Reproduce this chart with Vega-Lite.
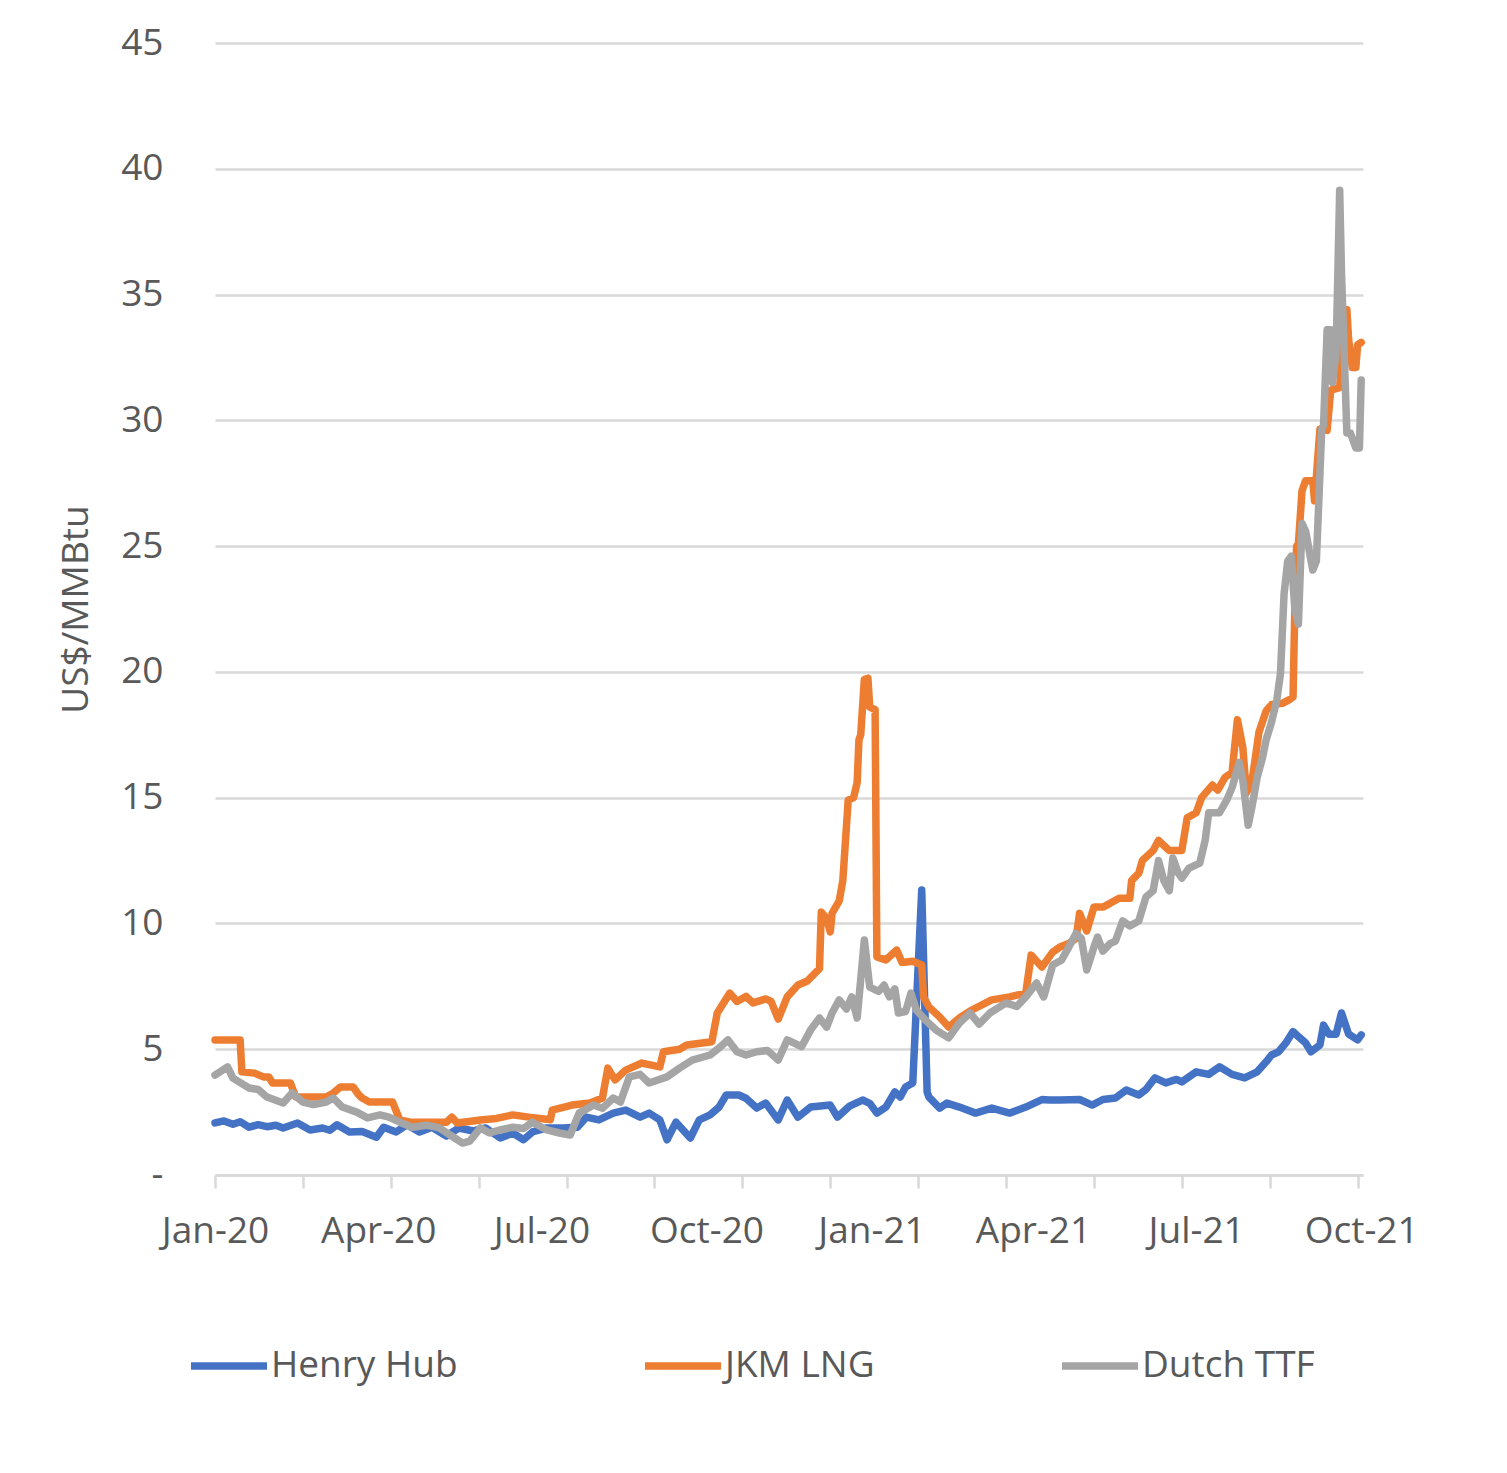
{
  "$schema": "https://vega.github.io/schema/vega-lite/v6.json",
  "autosize": {"type": "none"},
  "padding": {"left": 215, "top": 43, "right": 144, "bottom": 298},
  "width": 1148,
  "height": 1132,
  "background": "white",
  "config": {
    "view": {"stroke": null},
    "font": "Open Sans"
  },
  "data": {
    "values": [
      {"d": "2020-01-01", "s": "Henry Hub", "v": 2.07},
      {"d": "2020-01-06", "s": "Henry Hub", "v": 2.15},
      {"d": "2020-01-11", "s": "Henry Hub", "v": 2.02},
      {"d": "2020-01-15", "s": "Henry Hub", "v": 2.12},
      {"d": "2020-01-20", "s": "Henry Hub", "v": 1.90},
      {"d": "2020-01-25", "s": "Henry Hub", "v": 2.00},
      {"d": "2020-01-30", "s": "Henry Hub", "v": 1.92},
      {"d": "2020-02-04", "s": "Henry Hub", "v": 1.98},
      {"d": "2020-02-08", "s": "Henry Hub", "v": 1.87},
      {"d": "2020-02-16", "s": "Henry Hub", "v": 2.07},
      {"d": "2020-02-23", "s": "Henry Hub", "v": 1.79},
      {"d": "2020-03-01", "s": "Henry Hub", "v": 1.87},
      {"d": "2020-03-05", "s": "Henry Hub", "v": 1.78},
      {"d": "2020-03-09", "s": "Henry Hub", "v": 2.00},
      {"d": "2020-03-16", "s": "Henry Hub", "v": 1.71},
      {"d": "2020-03-23", "s": "Henry Hub", "v": 1.73},
      {"d": "2020-03-31", "s": "Henry Hub", "v": 1.50},
      {"d": "2020-04-04", "s": "Henry Hub", "v": 1.90},
      {"d": "2020-04-11", "s": "Henry Hub", "v": 1.71},
      {"d": "2020-04-17", "s": "Henry Hub", "v": 2.00},
      {"d": "2020-04-24", "s": "Henry Hub", "v": 1.71},
      {"d": "2020-05-01", "s": "Henry Hub", "v": 1.90},
      {"d": "2020-05-09", "s": "Henry Hub", "v": 1.55},
      {"d": "2020-05-16", "s": "Henry Hub", "v": 1.87},
      {"d": "2020-05-24", "s": "Henry Hub", "v": 1.75},
      {"d": "2020-05-31", "s": "Henry Hub", "v": 1.87},
      {"d": "2020-06-08", "s": "Henry Hub", "v": 1.47},
      {"d": "2020-06-15", "s": "Henry Hub", "v": 1.67},
      {"d": "2020-06-21", "s": "Henry Hub", "v": 1.40},
      {"d": "2020-06-26", "s": "Henry Hub", "v": 1.71},
      {"d": "2020-07-04", "s": "Henry Hub", "v": 1.87},
      {"d": "2020-07-13", "s": "Henry Hub", "v": 1.87},
      {"d": "2020-07-21", "s": "Henry Hub", "v": 1.90},
      {"d": "2020-07-26", "s": "Henry Hub", "v": 2.30},
      {"d": "2020-08-02", "s": "Henry Hub", "v": 2.19},
      {"d": "2020-08-10", "s": "Henry Hub", "v": 2.46},
      {"d": "2020-08-17", "s": "Henry Hub", "v": 2.58},
      {"d": "2020-08-25", "s": "Henry Hub", "v": 2.30},
      {"d": "2020-08-30", "s": "Henry Hub", "v": 2.46},
      {"d": "2020-09-05", "s": "Henry Hub", "v": 2.19},
      {"d": "2020-09-09", "s": "Henry Hub", "v": 1.40},
      {"d": "2020-09-14", "s": "Henry Hub", "v": 2.10},
      {"d": "2020-09-22", "s": "Henry Hub", "v": 1.47},
      {"d": "2020-09-27", "s": "Henry Hub", "v": 2.19},
      {"d": "2020-10-03", "s": "Henry Hub", "v": 2.39},
      {"d": "2020-10-08", "s": "Henry Hub", "v": 2.70},
      {"d": "2020-10-12", "s": "Henry Hub", "v": 3.18},
      {"d": "2020-10-19", "s": "Henry Hub", "v": 3.18},
      {"d": "2020-10-23", "s": "Henry Hub", "v": 3.05},
      {"d": "2020-10-29", "s": "Henry Hub", "v": 2.66},
      {"d": "2020-11-03", "s": "Henry Hub", "v": 2.86},
      {"d": "2020-11-10", "s": "Henry Hub", "v": 2.19},
      {"d": "2020-11-15", "s": "Henry Hub", "v": 2.98},
      {"d": "2020-11-21", "s": "Henry Hub", "v": 2.30},
      {"d": "2020-11-28", "s": "Henry Hub", "v": 2.70},
      {"d": "2020-12-09", "s": "Henry Hub", "v": 2.78},
      {"d": "2020-12-13", "s": "Henry Hub", "v": 2.30},
      {"d": "2020-12-20", "s": "Henry Hub", "v": 2.75},
      {"d": "2020-12-27", "s": "Henry Hub", "v": 2.98},
      {"d": "2020-12-31", "s": "Henry Hub", "v": 2.85},
      {"d": "2021-01-04", "s": "Henry Hub", "v": 2.46},
      {"d": "2021-01-09", "s": "Henry Hub", "v": 2.70},
      {"d": "2021-01-14", "s": "Henry Hub", "v": 3.30},
      {"d": "2021-01-17", "s": "Henry Hub", "v": 3.10},
      {"d": "2021-01-20", "s": "Henry Hub", "v": 3.50},
      {"d": "2021-01-24", "s": "Henry Hub", "v": 3.66},
      {"d": "2021-01-29", "s": "Henry Hub", "v": 11.33},
      {"d": "2021-02-01", "s": "Henry Hub", "v": 3.30},
      {"d": "2021-02-02", "s": "Henry Hub", "v": 3.10},
      {"d": "2021-02-08", "s": "Henry Hub", "v": 2.66},
      {"d": "2021-02-12", "s": "Henry Hub", "v": 2.86},
      {"d": "2021-02-19", "s": "Henry Hub", "v": 2.70},
      {"d": "2021-02-28", "s": "Henry Hub", "v": 2.46},
      {"d": "2021-03-09", "s": "Henry Hub", "v": 2.66},
      {"d": "2021-03-19", "s": "Henry Hub", "v": 2.46},
      {"d": "2021-03-28", "s": "Henry Hub", "v": 2.70},
      {"d": "2021-04-06", "s": "Henry Hub", "v": 3.00},
      {"d": "2021-04-10", "s": "Henry Hub", "v": 2.98},
      {"d": "2021-04-16", "s": "Henry Hub", "v": 2.98},
      {"d": "2021-04-27", "s": "Henry Hub", "v": 3.00},
      {"d": "2021-05-04", "s": "Henry Hub", "v": 2.78},
      {"d": "2021-05-10", "s": "Henry Hub", "v": 3.00},
      {"d": "2021-05-17", "s": "Henry Hub", "v": 3.06},
      {"d": "2021-05-23", "s": "Henry Hub", "v": 3.38},
      {"d": "2021-05-30", "s": "Henry Hub", "v": 3.18},
      {"d": "2021-06-03", "s": "Henry Hub", "v": 3.40},
      {"d": "2021-06-08", "s": "Henry Hub", "v": 3.86},
      {"d": "2021-06-14", "s": "Henry Hub", "v": 3.66},
      {"d": "2021-06-20", "s": "Henry Hub", "v": 3.80},
      {"d": "2021-06-23", "s": "Henry Hub", "v": 3.70},
      {"d": "2021-07-01", "s": "Henry Hub", "v": 4.10},
      {"d": "2021-07-08", "s": "Henry Hub", "v": 4.00},
      {"d": "2021-07-14", "s": "Henry Hub", "v": 4.30},
      {"d": "2021-07-21", "s": "Henry Hub", "v": 4.00},
      {"d": "2021-07-28", "s": "Henry Hub", "v": 3.86},
      {"d": "2021-08-04", "s": "Henry Hub", "v": 4.10},
      {"d": "2021-08-09", "s": "Henry Hub", "v": 4.50},
      {"d": "2021-08-12", "s": "Henry Hub", "v": 4.77},
      {"d": "2021-08-16", "s": "Henry Hub", "v": 4.90},
      {"d": "2021-08-20", "s": "Henry Hub", "v": 5.25},
      {"d": "2021-08-24", "s": "Henry Hub", "v": 5.70},
      {"d": "2021-08-27", "s": "Henry Hub", "v": 5.50},
      {"d": "2021-08-31", "s": "Henry Hub", "v": 5.25},
      {"d": "2021-09-03", "s": "Henry Hub", "v": 4.90},
      {"d": "2021-09-08", "s": "Henry Hub", "v": 5.17},
      {"d": "2021-09-10", "s": "Henry Hub", "v": 5.96},
      {"d": "2021-09-13", "s": "Henry Hub", "v": 5.60},
      {"d": "2021-09-17", "s": "Henry Hub", "v": 5.60},
      {"d": "2021-09-20", "s": "Henry Hub", "v": 6.44},
      {"d": "2021-09-24", "s": "Henry Hub", "v": 5.60},
      {"d": "2021-09-29", "s": "Henry Hub", "v": 5.37},
      {"d": "2021-10-01", "s": "Henry Hub", "v": 5.57},

      {"d": "2020-01-01", "s": "JKM LNG", "v": 5.37},
      {"d": "2020-01-15", "s": "JKM LNG", "v": 5.37},
      {"d": "2020-01-16", "s": "JKM LNG", "v": 4.10},
      {"d": "2020-01-23", "s": "JKM LNG", "v": 4.05},
      {"d": "2020-01-28", "s": "JKM LNG", "v": 3.90},
      {"d": "2020-01-31", "s": "JKM LNG", "v": 3.90},
      {"d": "2020-02-02", "s": "JKM LNG", "v": 3.66},
      {"d": "2020-02-12", "s": "JKM LNG", "v": 3.66},
      {"d": "2020-02-15", "s": "JKM LNG", "v": 3.10},
      {"d": "2020-03-03", "s": "JKM LNG", "v": 3.10},
      {"d": "2020-03-07", "s": "JKM LNG", "v": 3.26},
      {"d": "2020-03-11", "s": "JKM LNG", "v": 3.50},
      {"d": "2020-03-18", "s": "JKM LNG", "v": 3.50},
      {"d": "2020-03-21", "s": "JKM LNG", "v": 3.20},
      {"d": "2020-03-23", "s": "JKM LNG", "v": 3.06},
      {"d": "2020-03-27", "s": "JKM LNG", "v": 2.90},
      {"d": "2020-04-09", "s": "JKM LNG", "v": 2.90},
      {"d": "2020-04-13", "s": "JKM LNG", "v": 2.19},
      {"d": "2020-04-19", "s": "JKM LNG", "v": 2.10},
      {"d": "2020-05-09", "s": "JKM LNG", "v": 2.10},
      {"d": "2020-05-12", "s": "JKM LNG", "v": 2.30},
      {"d": "2020-05-15", "s": "JKM LNG", "v": 2.07},
      {"d": "2020-05-28", "s": "JKM LNG", "v": 2.19},
      {"d": "2020-06-06", "s": "JKM LNG", "v": 2.25},
      {"d": "2020-06-15", "s": "JKM LNG", "v": 2.39},
      {"d": "2020-06-24", "s": "JKM LNG", "v": 2.30},
      {"d": "2020-07-06", "s": "JKM LNG", "v": 2.20},
      {"d": "2020-07-07", "s": "JKM LNG", "v": 2.58},
      {"d": "2020-07-18", "s": "JKM LNG", "v": 2.78},
      {"d": "2020-07-28", "s": "JKM LNG", "v": 2.86},
      {"d": "2020-08-04", "s": "JKM LNG", "v": 3.06},
      {"d": "2020-08-07", "s": "JKM LNG", "v": 4.25},
      {"d": "2020-08-11", "s": "JKM LNG", "v": 3.78},
      {"d": "2020-08-17", "s": "JKM LNG", "v": 4.17},
      {"d": "2020-08-26", "s": "JKM LNG", "v": 4.45},
      {"d": "2020-09-05", "s": "JKM LNG", "v": 4.30},
      {"d": "2020-09-07", "s": "JKM LNG", "v": 4.90},
      {"d": "2020-09-16", "s": "JKM LNG", "v": 5.00},
      {"d": "2020-09-20", "s": "JKM LNG", "v": 5.17},
      {"d": "2020-10-04", "s": "JKM LNG", "v": 5.30},
      {"d": "2020-10-07", "s": "JKM LNG", "v": 6.44},
      {"d": "2020-10-14", "s": "JKM LNG", "v": 7.23},
      {"d": "2020-10-18", "s": "JKM LNG", "v": 6.90},
      {"d": "2020-10-23", "s": "JKM LNG", "v": 7.10},
      {"d": "2020-10-27", "s": "JKM LNG", "v": 6.84},
      {"d": "2020-11-03", "s": "JKM LNG", "v": 7.00},
      {"d": "2020-11-06", "s": "JKM LNG", "v": 6.90},
      {"d": "2020-11-10", "s": "JKM LNG", "v": 6.20},
      {"d": "2020-11-15", "s": "JKM LNG", "v": 7.08},
      {"d": "2020-11-21", "s": "JKM LNG", "v": 7.55},
      {"d": "2020-11-26", "s": "JKM LNG", "v": 7.70},
      {"d": "2020-12-03", "s": "JKM LNG", "v": 8.20},
      {"d": "2020-12-04", "s": "JKM LNG", "v": 10.45},
      {"d": "2020-12-07", "s": "JKM LNG", "v": 10.20},
      {"d": "2020-12-09", "s": "JKM LNG", "v": 9.66},
      {"d": "2020-12-10", "s": "JKM LNG", "v": 10.40},
      {"d": "2020-12-14", "s": "JKM LNG", "v": 10.90},
      {"d": "2020-12-16", "s": "JKM LNG", "v": 11.70},
      {"d": "2020-12-19", "s": "JKM LNG", "v": 14.90},
      {"d": "2020-12-22", "s": "JKM LNG", "v": 15.00},
      {"d": "2020-12-24", "s": "JKM LNG", "v": 15.60},
      {"d": "2020-12-25", "s": "JKM LNG", "v": 17.30},
      {"d": "2020-12-26", "s": "JKM LNG", "v": 17.50},
      {"d": "2020-12-28", "s": "JKM LNG", "v": 19.70},
      {"d": "2020-12-30", "s": "JKM LNG", "v": 19.75},
      {"d": "2020-12-31", "s": "JKM LNG", "v": 18.60},
      {"d": "2021-01-03", "s": "JKM LNG", "v": 18.50},
      {"d": "2021-01-04", "s": "JKM LNG", "v": 8.67},
      {"d": "2021-01-09", "s": "JKM LNG", "v": 8.55},
      {"d": "2021-01-15", "s": "JKM LNG", "v": 8.94},
      {"d": "2021-01-18", "s": "JKM LNG", "v": 8.45},
      {"d": "2021-01-24", "s": "JKM LNG", "v": 8.50},
      {"d": "2021-01-29", "s": "JKM LNG", "v": 8.35},
      {"d": "2021-01-30", "s": "JKM LNG", "v": 7.08},
      {"d": "2021-02-02", "s": "JKM LNG", "v": 6.68},
      {"d": "2021-02-08", "s": "JKM LNG", "v": 6.28},
      {"d": "2021-02-13", "s": "JKM LNG", "v": 5.88},
      {"d": "2021-02-19", "s": "JKM LNG", "v": 6.24},
      {"d": "2021-02-26", "s": "JKM LNG", "v": 6.56},
      {"d": "2021-03-09", "s": "JKM LNG", "v": 6.96},
      {"d": "2021-03-19", "s": "JKM LNG", "v": 7.08},
      {"d": "2021-03-28", "s": "JKM LNG", "v": 7.23},
      {"d": "2021-03-31", "s": "JKM LNG", "v": 8.74},
      {"d": "2021-04-06", "s": "JKM LNG", "v": 8.27},
      {"d": "2021-04-12", "s": "JKM LNG", "v": 8.86},
      {"d": "2021-04-16", "s": "JKM LNG", "v": 9.06},
      {"d": "2021-04-21", "s": "JKM LNG", "v": 9.20},
      {"d": "2021-04-25", "s": "JKM LNG", "v": 9.40},
      {"d": "2021-04-27", "s": "JKM LNG", "v": 10.40},
      {"d": "2021-05-01", "s": "JKM LNG", "v": 9.70},
      {"d": "2021-05-05", "s": "JKM LNG", "v": 10.65},
      {"d": "2021-05-10", "s": "JKM LNG", "v": 10.65},
      {"d": "2021-05-14", "s": "JKM LNG", "v": 10.80},
      {"d": "2021-05-19", "s": "JKM LNG", "v": 11.00},
      {"d": "2021-05-25", "s": "JKM LNG", "v": 11.00},
      {"d": "2021-05-26", "s": "JKM LNG", "v": 11.70},
      {"d": "2021-05-30", "s": "JKM LNG", "v": 12.00},
      {"d": "2021-06-01", "s": "JKM LNG", "v": 12.50},
      {"d": "2021-06-07", "s": "JKM LNG", "v": 12.90},
      {"d": "2021-06-10", "s": "JKM LNG", "v": 13.30},
      {"d": "2021-06-16", "s": "JKM LNG", "v": 12.90},
      {"d": "2021-06-23", "s": "JKM LNG", "v": 12.90},
      {"d": "2021-06-26", "s": "JKM LNG", "v": 14.20},
      {"d": "2021-07-01", "s": "JKM LNG", "v": 14.40},
      {"d": "2021-07-04", "s": "JKM LNG", "v": 15.00},
      {"d": "2021-07-10", "s": "JKM LNG", "v": 15.50},
      {"d": "2021-07-13", "s": "JKM LNG", "v": 15.30},
      {"d": "2021-07-17", "s": "JKM LNG", "v": 15.80},
      {"d": "2021-07-21", "s": "JKM LNG", "v": 16.00},
      {"d": "2021-07-24", "s": "JKM LNG", "v": 18.10},
      {"d": "2021-07-27", "s": "JKM LNG", "v": 17.00},
      {"d": "2021-07-29", "s": "JKM LNG", "v": 15.20},
      {"d": "2021-08-01", "s": "JKM LNG", "v": 15.60},
      {"d": "2021-08-05", "s": "JKM LNG", "v": 17.60},
      {"d": "2021-08-09", "s": "JKM LNG", "v": 18.45},
      {"d": "2021-08-12", "s": "JKM LNG", "v": 18.70},
      {"d": "2021-08-18", "s": "JKM LNG", "v": 18.75},
      {"d": "2021-08-22", "s": "JKM LNG", "v": 18.90},
      {"d": "2021-08-24", "s": "JKM LNG", "v": 19.00},
      {"d": "2021-08-25", "s": "JKM LNG", "v": 22.50},
      {"d": "2021-08-26", "s": "JKM LNG", "v": 25.00},
      {"d": "2021-08-27", "s": "JKM LNG", "v": 25.10},
      {"d": "2021-08-29", "s": "JKM LNG", "v": 27.20},
      {"d": "2021-08-31", "s": "JKM LNG", "v": 27.60},
      {"d": "2021-09-04", "s": "JKM LNG", "v": 27.60},
      {"d": "2021-09-05", "s": "JKM LNG", "v": 26.80},
      {"d": "2021-09-08", "s": "JKM LNG", "v": 29.65},
      {"d": "2021-09-12", "s": "JKM LNG", "v": 29.60},
      {"d": "2021-09-14", "s": "JKM LNG", "v": 31.20},
      {"d": "2021-09-19", "s": "JKM LNG", "v": 31.30},
      {"d": "2021-09-20", "s": "JKM LNG", "v": 32.60},
      {"d": "2021-09-23", "s": "JKM LNG", "v": 34.40},
      {"d": "2021-09-24", "s": "JKM LNG", "v": 33.20},
      {"d": "2021-09-26", "s": "JKM LNG", "v": 32.10},
      {"d": "2021-09-28", "s": "JKM LNG", "v": 32.10},
      {"d": "2021-09-29", "s": "JKM LNG", "v": 33.00},
      {"d": "2021-10-01", "s": "JKM LNG", "v": 33.10},

      {"d": "2020-01-01", "s": "Dutch TTF", "v": 3.97},
      {"d": "2020-01-08", "s": "Dutch TTF", "v": 4.30},
      {"d": "2020-01-11", "s": "Dutch TTF", "v": 3.85},
      {"d": "2020-01-20", "s": "Dutch TTF", "v": 3.46},
      {"d": "2020-01-25", "s": "Dutch TTF", "v": 3.40},
      {"d": "2020-01-30", "s": "Dutch TTF", "v": 3.10},
      {"d": "2020-02-08", "s": "Dutch TTF", "v": 2.86},
      {"d": "2020-02-13", "s": "Dutch TTF", "v": 3.26},
      {"d": "2020-02-19", "s": "Dutch TTF", "v": 2.90},
      {"d": "2020-02-25", "s": "Dutch TTF", "v": 2.80},
      {"d": "2020-03-03", "s": "Dutch TTF", "v": 2.90},
      {"d": "2020-03-07", "s": "Dutch TTF", "v": 3.06},
      {"d": "2020-03-12", "s": "Dutch TTF", "v": 2.70},
      {"d": "2020-03-20", "s": "Dutch TTF", "v": 2.50},
      {"d": "2020-03-26", "s": "Dutch TTF", "v": 2.27},
      {"d": "2020-04-02", "s": "Dutch TTF", "v": 2.39},
      {"d": "2020-04-07", "s": "Dutch TTF", "v": 2.30},
      {"d": "2020-04-13", "s": "Dutch TTF", "v": 2.10},
      {"d": "2020-04-20", "s": "Dutch TTF", "v": 1.90},
      {"d": "2020-04-28", "s": "Dutch TTF", "v": 1.98},
      {"d": "2020-05-05", "s": "Dutch TTF", "v": 1.87},
      {"d": "2020-05-13", "s": "Dutch TTF", "v": 1.50},
      {"d": "2020-05-18", "s": "Dutch TTF", "v": 1.27},
      {"d": "2020-05-22", "s": "Dutch TTF", "v": 1.35},
      {"d": "2020-05-28", "s": "Dutch TTF", "v": 1.87},
      {"d": "2020-06-02", "s": "Dutch TTF", "v": 1.67},
      {"d": "2020-06-08", "s": "Dutch TTF", "v": 1.79},
      {"d": "2020-06-15", "s": "Dutch TTF", "v": 1.90},
      {"d": "2020-06-21", "s": "Dutch TTF", "v": 1.85},
      {"d": "2020-06-26", "s": "Dutch TTF", "v": 2.10},
      {"d": "2020-07-04", "s": "Dutch TTF", "v": 1.79},
      {"d": "2020-07-11", "s": "Dutch TTF", "v": 1.67},
      {"d": "2020-07-17", "s": "Dutch TTF", "v": 1.59},
      {"d": "2020-07-22", "s": "Dutch TTF", "v": 2.46},
      {"d": "2020-07-30", "s": "Dutch TTF", "v": 2.78},
      {"d": "2020-08-04", "s": "Dutch TTF", "v": 2.65},
      {"d": "2020-08-10", "s": "Dutch TTF", "v": 3.06},
      {"d": "2020-08-14", "s": "Dutch TTF", "v": 2.90},
      {"d": "2020-08-19", "s": "Dutch TTF", "v": 3.90},
      {"d": "2020-08-25", "s": "Dutch TTF", "v": 4.00},
      {"d": "2020-08-30", "s": "Dutch TTF", "v": 3.66},
      {"d": "2020-09-09", "s": "Dutch TTF", "v": 3.90},
      {"d": "2020-09-16", "s": "Dutch TTF", "v": 4.25},
      {"d": "2020-09-23", "s": "Dutch TTF", "v": 4.57},
      {"d": "2020-10-03", "s": "Dutch TTF", "v": 4.77},
      {"d": "2020-10-08", "s": "Dutch TTF", "v": 5.05},
      {"d": "2020-10-13", "s": "Dutch TTF", "v": 5.37},
      {"d": "2020-10-18", "s": "Dutch TTF", "v": 4.90},
      {"d": "2020-10-23", "s": "Dutch TTF", "v": 4.77},
      {"d": "2020-10-29", "s": "Dutch TTF", "v": 4.90},
      {"d": "2020-11-04", "s": "Dutch TTF", "v": 4.95},
      {"d": "2020-11-10", "s": "Dutch TTF", "v": 4.57},
      {"d": "2020-11-15", "s": "Dutch TTF", "v": 5.37},
      {"d": "2020-11-23", "s": "Dutch TTF", "v": 5.10},
      {"d": "2020-11-28", "s": "Dutch TTF", "v": 5.76},
      {"d": "2020-12-03", "s": "Dutch TTF", "v": 6.24},
      {"d": "2020-12-07", "s": "Dutch TTF", "v": 5.88},
      {"d": "2020-12-10", "s": "Dutch TTF", "v": 6.44},
      {"d": "2020-12-14", "s": "Dutch TTF", "v": 6.96},
      {"d": "2020-12-18", "s": "Dutch TTF", "v": 6.60},
      {"d": "2020-12-21", "s": "Dutch TTF", "v": 7.08},
      {"d": "2020-12-24", "s": "Dutch TTF", "v": 6.24},
      {"d": "2020-12-28", "s": "Dutch TTF", "v": 9.34},
      {"d": "2020-12-31", "s": "Dutch TTF", "v": 7.47},
      {"d": "2021-01-05", "s": "Dutch TTF", "v": 7.30},
      {"d": "2021-01-08", "s": "Dutch TTF", "v": 7.55},
      {"d": "2021-01-11", "s": "Dutch TTF", "v": 7.08},
      {"d": "2021-01-14", "s": "Dutch TTF", "v": 7.40},
      {"d": "2021-01-16", "s": "Dutch TTF", "v": 6.44},
      {"d": "2021-01-20", "s": "Dutch TTF", "v": 6.50},
      {"d": "2021-01-23", "s": "Dutch TTF", "v": 7.23},
      {"d": "2021-01-26", "s": "Dutch TTF", "v": 6.56},
      {"d": "2021-01-31", "s": "Dutch TTF", "v": 6.16},
      {"d": "2021-02-06", "s": "Dutch TTF", "v": 5.76},
      {"d": "2021-02-13", "s": "Dutch TTF", "v": 5.45},
      {"d": "2021-02-19", "s": "Dutch TTF", "v": 6.04},
      {"d": "2021-02-25", "s": "Dutch TTF", "v": 6.44},
      {"d": "2021-03-02", "s": "Dutch TTF", "v": 6.00},
      {"d": "2021-03-08", "s": "Dutch TTF", "v": 6.44},
      {"d": "2021-03-17", "s": "Dutch TTF", "v": 6.84},
      {"d": "2021-03-23", "s": "Dutch TTF", "v": 6.70},
      {"d": "2021-03-28", "s": "Dutch TTF", "v": 7.08},
      {"d": "2021-04-03", "s": "Dutch TTF", "v": 7.63},
      {"d": "2021-04-07", "s": "Dutch TTF", "v": 7.08},
      {"d": "2021-04-12", "s": "Dutch TTF", "v": 8.35},
      {"d": "2021-04-17", "s": "Dutch TTF", "v": 8.55},
      {"d": "2021-04-21", "s": "Dutch TTF", "v": 9.06},
      {"d": "2021-04-25", "s": "Dutch TTF", "v": 9.60},
      {"d": "2021-04-28", "s": "Dutch TTF", "v": 9.40},
      {"d": "2021-05-01", "s": "Dutch TTF", "v": 8.15},
      {"d": "2021-05-05", "s": "Dutch TTF", "v": 9.06},
      {"d": "2021-05-07", "s": "Dutch TTF", "v": 9.46},
      {"d": "2021-05-10", "s": "Dutch TTF", "v": 8.90},
      {"d": "2021-05-14", "s": "Dutch TTF", "v": 9.20},
      {"d": "2021-05-17", "s": "Dutch TTF", "v": 9.30},
      {"d": "2021-05-21", "s": "Dutch TTF", "v": 10.10},
      {"d": "2021-05-25", "s": "Dutch TTF", "v": 9.90},
      {"d": "2021-05-30", "s": "Dutch TTF", "v": 10.10},
      {"d": "2021-06-03", "s": "Dutch TTF", "v": 11.05},
      {"d": "2021-06-07", "s": "Dutch TTF", "v": 11.30},
      {"d": "2021-06-10", "s": "Dutch TTF", "v": 12.50},
      {"d": "2021-06-13", "s": "Dutch TTF", "v": 11.70},
      {"d": "2021-06-16", "s": "Dutch TTF", "v": 11.30},
      {"d": "2021-06-18", "s": "Dutch TTF", "v": 12.60},
      {"d": "2021-06-21", "s": "Dutch TTF", "v": 12.00},
      {"d": "2021-06-23", "s": "Dutch TTF", "v": 11.80},
      {"d": "2021-06-27", "s": "Dutch TTF", "v": 12.20},
      {"d": "2021-07-03", "s": "Dutch TTF", "v": 12.40},
      {"d": "2021-07-06", "s": "Dutch TTF", "v": 13.30},
      {"d": "2021-07-08", "s": "Dutch TTF", "v": 14.40},
      {"d": "2021-07-14", "s": "Dutch TTF", "v": 14.40},
      {"d": "2021-07-18", "s": "Dutch TTF", "v": 14.90},
      {"d": "2021-07-21", "s": "Dutch TTF", "v": 15.40},
      {"d": "2021-07-25", "s": "Dutch TTF", "v": 16.40},
      {"d": "2021-07-27", "s": "Dutch TTF", "v": 15.70},
      {"d": "2021-07-30", "s": "Dutch TTF", "v": 13.90},
      {"d": "2021-08-01", "s": "Dutch TTF", "v": 14.60},
      {"d": "2021-08-04", "s": "Dutch TTF", "v": 15.80},
      {"d": "2021-08-07", "s": "Dutch TTF", "v": 16.60},
      {"d": "2021-08-09", "s": "Dutch TTF", "v": 17.30},
      {"d": "2021-08-12", "s": "Dutch TTF", "v": 18.00},
      {"d": "2021-08-15", "s": "Dutch TTF", "v": 18.90},
      {"d": "2021-08-17", "s": "Dutch TTF", "v": 19.95},
      {"d": "2021-08-19", "s": "Dutch TTF", "v": 23.10},
      {"d": "2021-08-21", "s": "Dutch TTF", "v": 24.40},
      {"d": "2021-08-23", "s": "Dutch TTF", "v": 24.60},
      {"d": "2021-08-25", "s": "Dutch TTF", "v": 22.50},
      {"d": "2021-08-27", "s": "Dutch TTF", "v": 21.90},
      {"d": "2021-08-29", "s": "Dutch TTF", "v": 25.90},
      {"d": "2021-08-31", "s": "Dutch TTF", "v": 25.60},
      {"d": "2021-09-04", "s": "Dutch TTF", "v": 24.05},
      {"d": "2021-09-06", "s": "Dutch TTF", "v": 24.40},
      {"d": "2021-09-09", "s": "Dutch TTF", "v": 29.65},
      {"d": "2021-09-10", "s": "Dutch TTF", "v": 29.80},
      {"d": "2021-09-12", "s": "Dutch TTF", "v": 33.60},
      {"d": "2021-09-14", "s": "Dutch TTF", "v": 33.60},
      {"d": "2021-09-15", "s": "Dutch TTF", "v": 31.50},
      {"d": "2021-09-17", "s": "Dutch TTF", "v": 32.70},
      {"d": "2021-09-19", "s": "Dutch TTF", "v": 39.15},
      {"d": "2021-09-20", "s": "Dutch TTF", "v": 35.90},
      {"d": "2021-09-23", "s": "Dutch TTF", "v": 29.50},
      {"d": "2021-09-25", "s": "Dutch TTF", "v": 29.50},
      {"d": "2021-09-28", "s": "Dutch TTF", "v": 28.90},
      {"d": "2021-09-30", "s": "Dutch TTF", "v": 28.90},
      {"d": "2021-10-01", "s": "Dutch TTF", "v": 31.60}
    ]
  },
  "mark": {"type": "line", "strokeWidth": 7.5, "strokeCap": "round", "strokeJoin": "round"},
  "encoding": {
    "x": {
      "field": "d",
      "type": "temporal",
      "scale": {
        "type": "utc",
        "domain": [
          {"year": 2020, "month": 1, "date": 1, "utc": true},
          {"year": 2021, "month": 10, "date": 2, "utc": true}
        ],
        "nice": false
      },
      "axis": {
        "title": null,
        "grid": false,
        "domainColor": "#D9D9D9",
        "domainWidth": 2.5,
        "tickColor": "#D9D9D9",
        "tickWidth": 2.5,
        "tickSize": 13,
        "tickOpacity": {
          "condition": {"test": "utcdate(datum.value) != 1 || (utcyear(datum.value) == 2020 && utcmonth(datum.value) == 0)", "value": 1},
          "value": 0
        },
        "values": [
          {"year": 2020, "month": 1, "date": 1, "utc": true},
          {"year": 2020, "month": 2, "date": 19, "utc": true},
          {"year": 2020, "month": 4, "date": 8, "utc": true},
          {"year": 2020, "month": 5, "date": 27, "utc": true},
          {"year": 2020, "month": 7, "date": 15, "utc": true},
          {"year": 2020, "month": 9, "date": 2, "utc": true},
          {"year": 2020, "month": 10, "date": 21, "utc": true},
          {"year": 2020, "month": 12, "date": 9, "utc": true},
          {"year": 2021, "month": 1, "date": 27, "utc": true},
          {"year": 2021, "month": 3, "date": 17, "utc": true},
          {"year": 2021, "month": 5, "date": 5, "utc": true},
          {"year": 2021, "month": 6, "date": 23, "utc": true},
          {"year": 2021, "month": 8, "date": 11, "utc": true},
          {"year": 2021, "month": 9, "date": 29, "utc": true},
          {"year": 2020, "month": 4, "date": 1, "utc": true},
          {"year": 2020, "month": 7, "date": 1, "utc": true},
          {"year": 2020, "month": 10, "date": 1, "utc": true},
          {"year": 2021, "month": 1, "date": 1, "utc": true},
          {"year": 2021, "month": 4, "date": 1, "utc": true},
          {"year": 2021, "month": 7, "date": 1, "utc": true},
          {"year": 2021, "month": 10, "date": 1, "utc": true}
        ],
        "labelExpr": "utcdate(datum.value) == 1 ? utcFormat(datum.value, '%b-%y') : ''",
        "labelOverlap": false,
        "labelFlush": false,
        "labelBound": false,
        "labelFont": "Open Sans",
        "labelFontSize": 37,
        "labelColor": "#595959",
        "labelPadding": 25
      }
    },
    "y": {
      "field": "v",
      "type": "quantitative",
      "scale": {"domain": [0, 45], "nice": false, "zero": true},
      "axis": {
        "values": [0, 5, 10, 15, 20, 25, 30, 35, 40, 45],
        "labelExpr": "datum.value == 0 ? '-' : datum.label",
        "domain": false,
        "ticks": false,
        "grid": true,
        "gridColor": "#D9D9D9",
        "gridWidth": 2.5,
        "labelFont": "Open Sans",
        "labelFontSize": 37,
        "labelColor": "#595959",
        "labelPadding": 52,
        "title": "US$/MMBtu",
        "titleFont": "Open Sans",
        "titleFontSize": 37,
        "titleFontWeight": "normal",
        "titleColor": "#595959",
        "titleX": -139,
        "titleY": 566,
        "titleAngle": -90,
        "titleAlign": "center",
        "titleBaseline": "middle"
      }
    },
    "color": {
      "field": "s",
      "type": "nominal",
      "sort": ["Henry Hub", "JKM LNG", "Dutch TTF"],
      "scale": {
        "domain": ["Henry Hub", "JKM LNG", "Dutch TTF"],
        "range": ["#4472C4", "#ED7D31", "#A5A5A5"]
      },
      "legend": {
        "title": null,
        "orient": "none",
        "direction": "horizontal",
        "legendX": -28,
        "legendY": 1281,
        "padding": 0,
        "symbolType": "stroke",
        "symbolSize": 5776,
        "symbolStrokeWidth": 7.5,
        "labelFont": "Open Sans",
        "labelFontSize": 37,
        "labelColor": "#595959",
        "labelOffset": 0,
        "columnPadding": 172,
        "labelLimit": 400
      }
    },
    "order": {"field": "d", "type": "temporal"}
  }
}
